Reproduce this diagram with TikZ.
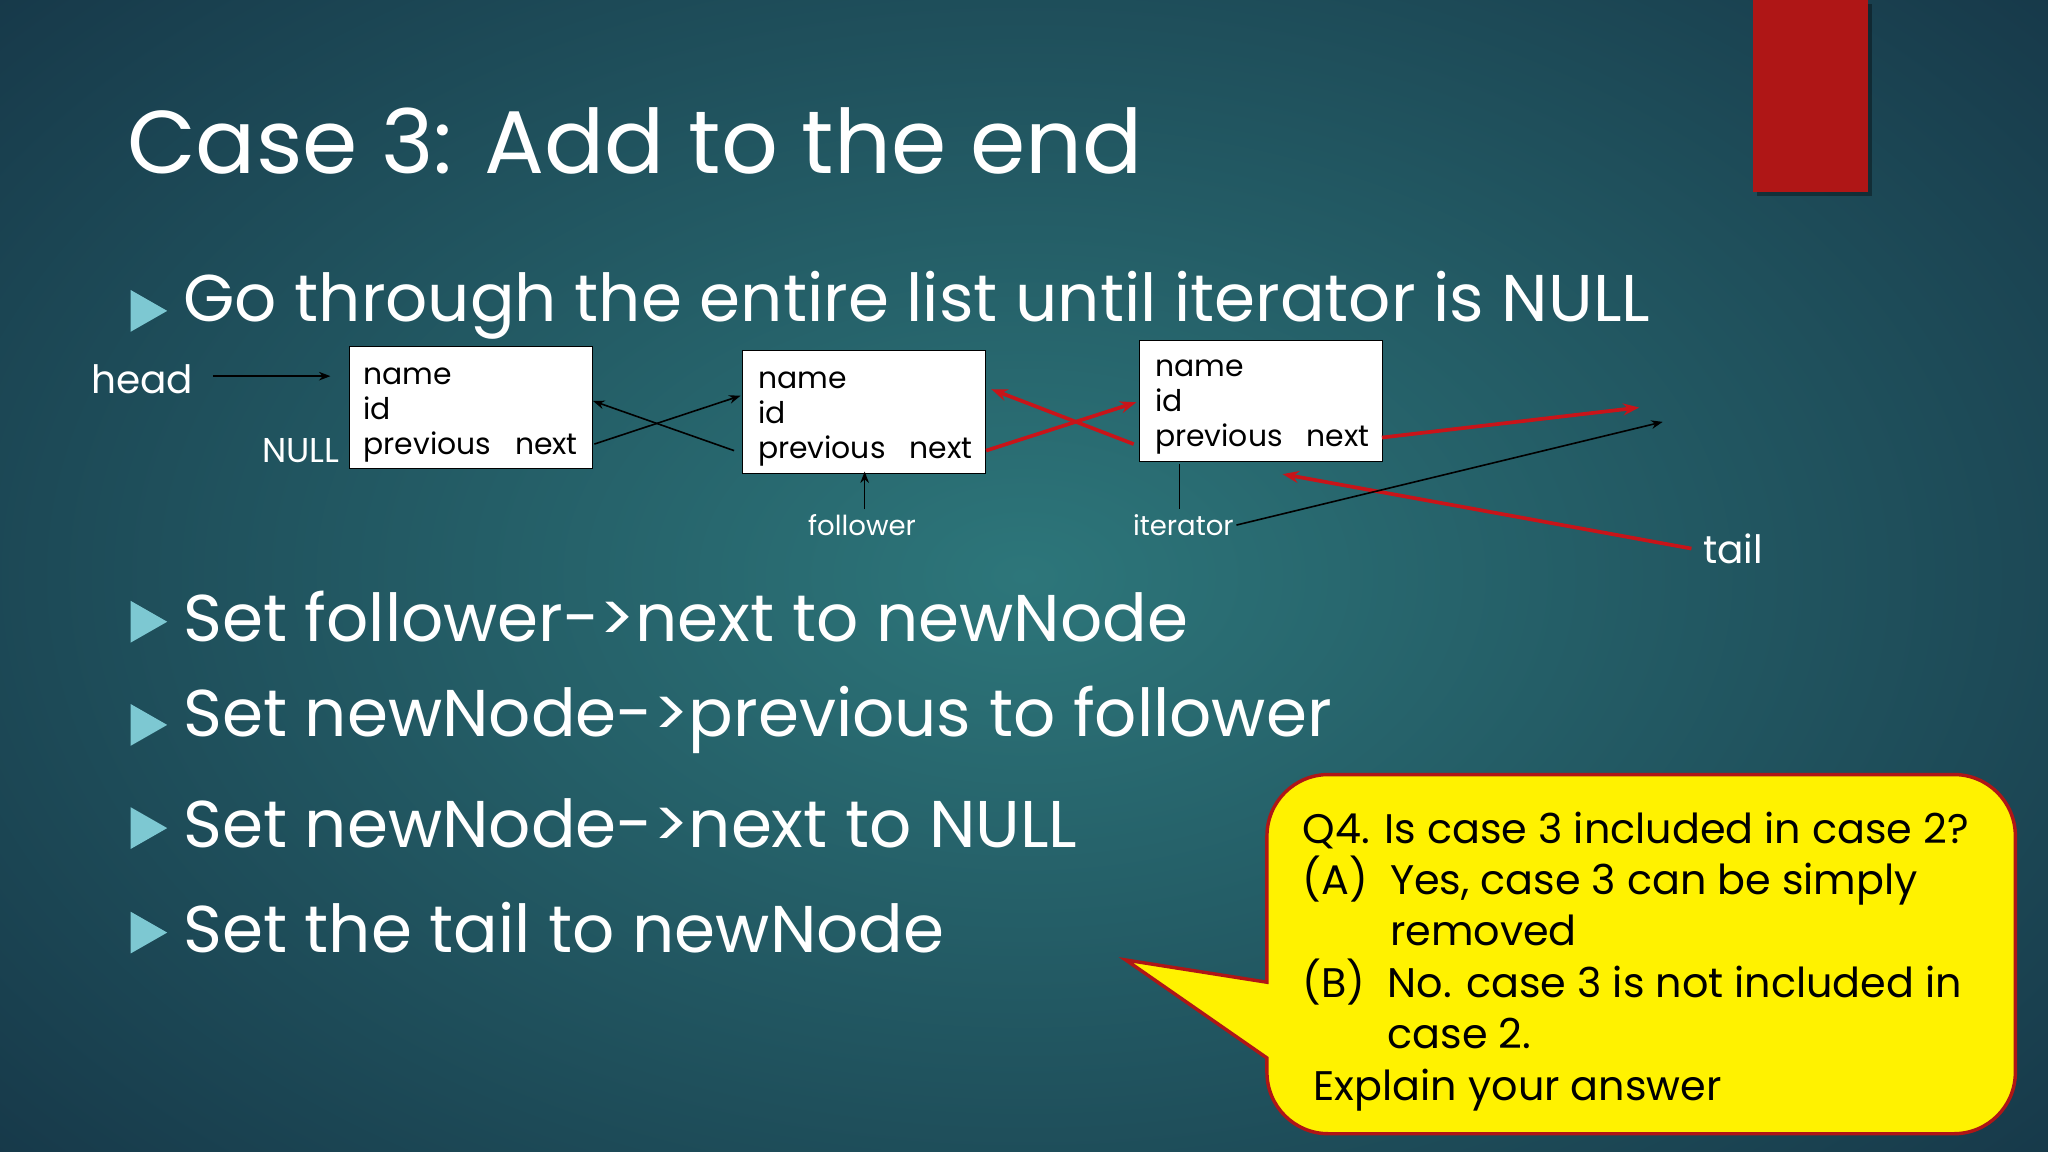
\documentclass[tikz,border=0pt]{standalone}
\usepackage{fontspec}
\setmainfont{Poppins}
\usetikzlibrary{arrows.meta}
\definecolor{bgin}{RGB}{45,118,122}
\definecolor{bgout}{RGB}{22,55,72}
\definecolor{bul}{RGB}{125,200,210}
\definecolor{rd}{RGB}{200,20,25}
\definecolor{dred}{RGB}{175,22,22}
\tikzset{
  box/.style={draw=black,fill=white,minimum width=186*0.02cm,minimum height=93*0.02cm},
  btxt/.style={anchor=north west,font=\fontsize{13}{15.4}\selectfont,align=left,inner sep=0pt},
  blk/.style={-{Stealth[length=5pt]},black,line width=0.7pt},
  red/.style={-{Stealth[length=7pt]},rd,line width=1.6pt},
  bullet/.style={anchor=west,text=white,font=\fontsize{28.8}{34}\selectfont,inner sep=0pt},
  lbl/.style={text=white,inner sep=1pt}
}
\begin{document}
\begin{tikzpicture}[x=0.02cm,y=-0.02cm]
\useasboundingbox (0,0) rectangle (1568,882);
\shade[inner color=bgin,outer color=bgout] (-300,-250) rectangle (1868,1132);
\fill[black,opacity=0.35] (1345,3) rectangle (1433,150);
\fill[dred] (1342,0) rectangle (1430,147);
\node[anchor=west,text=white,font=\fontsize{38.8}{44}\selectfont,inner sep=0pt] (title) at (97,108) {Case 3: Add to the end};
\foreach \y/\t [count=\i] in {238/Go through the entire list until iterator is NULL,476/Set follower->next to newNode,555/Set newNode->previous to follower,634/Set newNode->next to NULL,714/Set the tail to newNode}{
  \fill[bul] (100,\y-16) -- (128,\y) -- (100,\y+16) -- cycle;
  \node[bullet] (b\i) at (140,\y-4) {\t};
}
% boxes
\node[box,anchor=north west] (n1) at (267,265) {};
\node[box,anchor=north west,minimum height=94*0.02cm] (n2) at (568,268) {};
\node[box,anchor=north west] (n3) at (872,260) {};
\foreach \n/\x/\y in {n1/278/281,n2/580/284,n3/884/275}{
  \node[btxt] (\n t) at (\x,\y) {name\\id\\previous\hspace{0.8em}next};
}
\node[lbl,font=\fontsize{17}{19}\selectfont] (head) at (109,290) {head};
\node[lbl,font=\fontsize{15}{17}\selectfont,anchor=east] (null) at (262,345) {NULL};
\node[lbl,font=\fontsize{12}{14}\selectfont] (fol) at (660,402) {follower};
\node[lbl,font=\fontsize{12}{14}\selectfont] (it) at (906,402) {iterator};
\node[lbl,font=\fontsize{17}{19}\selectfont] (tail) at (1327,420) {tail};
\coordinate (h1) at (163,288); \coordinate (h2) at (253,288);
\draw[blk] (h1) -- (h2);
\coordinate (a1) at (455,340); \coordinate (a2) at (567,303);
\coordinate (a3) at (562,345); \coordinate (a4) at (454,307);
\draw[blk] (a1) -- (a2);
\draw[blk] (a3) -- (a4);
\coordinate (r1) at (755,345); \coordinate (r2) at (870,308);
\coordinate (r3) at (868,340); \coordinate (r4) at (759,298);
\draw[red] (r1) -- (r2);
\draw[red] (r3) -- (r4);
\coordinate (r5) at (1058,335); \coordinate (r6) at (1255,312);
\draw[red] (r5) -- (r6);
\coordinate (t1) at (1295,420); \coordinate (t2) at (982,363);
\draw[red] (t1) -- (t2);
\coordinate (i1) at (903,355); \coordinate (i2) at (903,390);
\draw[black,line width=0.7pt] (i1) -- (i2);
\coordinate (i3) at (1273,323);
\draw[blk] (it.east) -- (i3);
\coordinate (f1) at (662,390); \coordinate (f2) at (662,361);
\draw[blk] (f1) -- (f2);
% callout
\draw[fill=yellow,draw=dred,line width=1.5pt]
  (970,752) -- (970,640) arc[start angle=180,end angle=270,radius=47]
  -- (1496,593) arc[start angle=270,end angle=360,radius=47]
  -- (1543,821) arc[start angle=0,end angle=90,radius=47]
  -- (1017,868) arc[start angle=90,end angle=180,radius=47]
  -- (970,810) -- (862,735) -- cycle;
\node[anchor=north west,align=left,inner sep=0pt,font=\fontsize{18}{22.4}\selectfont] (q) at (997,621)
{Q4. Is case 3 included in case 2?\\
(A)\ \ Yes, case 3 can be simply\\
\phantom{(A)\ \ }removed\\
(B)\ \ No. case 3 is not included in\\
\phantom{(B)\ \ }case 2.\\
\ Explain your answer};
\end{tikzpicture}
\end{document}
